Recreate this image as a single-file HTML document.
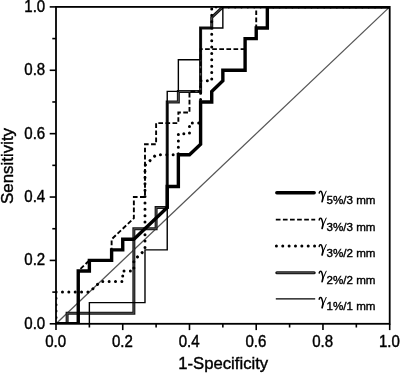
<!DOCTYPE html>
<html><head><meta charset="utf-8"><title>ROC curves</title>
<style>
html,body{margin:0;padding:0;background:#fff;}
body{width:400px;height:373px;overflow:hidden;position:relative;font-family:"Liberation Sans",sans-serif;}
</style></head><body>
<svg width="400" height="373" viewBox="0 0 400 373" style="position:absolute;left:0;top:0;will-change:transform;opacity:0.999">
<rect x="0" y="0" width="400" height="373" fill="#fff"/>
<line x1="56.0" y1="323.8" x2="389.7" y2="6.900000000000034" stroke="#555" stroke-width="1.3"/>
<defs><clipPath id="pc"><rect x="56.0" y="6.900000000000034" width="333.7" height="316.9"/></clipPath></defs>
<g clip-path="url(#pc)">
<path d="M56.00,323.80 L67.12,323.80 L67.12,313.24 L133.86,313.24 L133.86,228.73 L156.11,228.73 L156.11,207.60 L167.23,207.60 L167.23,101.97 L178.36,101.97 L178.36,91.41 L200.60,91.41 L200.60,28.03 L211.73,28.03 L211.73,17.46 L222.85,6.90 L389.70,6.90" fill="none" stroke="#141414" stroke-width="3.0" stroke-linejoin="miter"/>
<path d="M56.00,323.80 L67.12,323.80 L67.12,313.24 L133.86,313.24 L133.86,228.73 L156.11,228.73 L156.11,207.60 L167.23,207.60 L167.23,101.97 L178.36,101.97 L178.36,91.41 L200.60,91.41 L200.60,28.03 L211.73,28.03 L211.73,17.46 L222.85,6.90 L389.70,6.90" fill="none" stroke="#5a5a5a" stroke-width="0.9" stroke-linejoin="miter"/>
<path d="M56.00,323.80 L89.37,323.80 L89.37,302.67 L144.99,302.67 L144.99,249.86 L167.23,249.86 L167.23,91.41 L178.36,91.41 L178.36,59.72 L200.60,59.72 L200.60,28.03 L222.85,28.03 L222.85,6.90 L389.70,6.90" fill="none" stroke="#000" stroke-width="1.4" stroke-linejoin="miter"/>
<path d="M56.00,323.80 L78.25,323.80 L78.25,270.98 L89.37,270.98 L89.37,260.42 L111.62,260.42 L111.62,249.86 L122.74,249.86 L122.74,239.29 L133.86,239.29 L167.23,207.60 L167.23,186.48 L178.36,186.48 L178.36,154.79 L189.48,154.79 L200.60,144.22 L200.60,101.97 L211.73,101.97 L211.73,91.41 L222.85,80.84 L222.85,70.28 L245.10,70.28 L245.10,38.59 L256.22,38.59 L256.22,28.03 L267.34,28.03 L267.34,6.90 L389.70,6.90" fill="none" stroke="#000" stroke-width="3.4" stroke-linejoin="miter"/>
<path d="M56.00,323.80 L78.25,323.80 L78.25,270.98 L89.37,260.42 L111.62,260.42 L111.62,239.29 L133.86,218.17 L133.86,197.04 L144.99,197.04 L144.99,144.22 L156.11,144.22 L156.11,123.10 L178.36,123.10 L178.36,112.53 L189.48,112.53 L189.48,91.41 L200.60,91.41 L200.60,49.15 L245.10,49.15 L245.10,38.59 L256.22,38.59 L256.22,6.90 L389.70,6.90" fill="none" stroke="#000" stroke-width="1.9" stroke-dasharray="4.7 2.4"/>
<path d="M56.00,323.80 L56.00,292.11 L89.37,292.11 L100.49,281.55 L122.74,281.55 L122.74,270.98 L133.86,270.98 L133.86,260.42 L144.99,249.86 L144.99,165.35 L156.11,154.79 L178.36,154.79 L178.36,133.66 L189.48,133.66 L189.48,123.10 L200.60,123.10 L200.60,80.84 L211.73,80.84 L211.73,6.90 L389.70,6.90" fill="none" stroke="#000" stroke-width="3" stroke-dasharray="0.01 6.35" stroke-linecap="round"/>
</g>
<rect x="56.0" y="6.900000000000034" width="333.7" height="316.9" fill="none" stroke="#000" stroke-width="1.8"/>
<line x1="49.70" y1="323.80" x2="56.00" y2="323.80" stroke="#000" stroke-width="1.6"/>
<line x1="56.00" y1="323.80" x2="56.00" y2="330.10" stroke="#000" stroke-width="1.6"/>
<line x1="52.30" y1="292.11" x2="56.00" y2="292.11" stroke="#000" stroke-width="1.6"/>
<line x1="89.37" y1="323.80" x2="89.37" y2="327.50" stroke="#000" stroke-width="1.6"/>
<line x1="49.70" y1="260.42" x2="56.00" y2="260.42" stroke="#000" stroke-width="1.6"/>
<line x1="122.74" y1="323.80" x2="122.74" y2="330.10" stroke="#000" stroke-width="1.6"/>
<line x1="52.30" y1="228.73" x2="56.00" y2="228.73" stroke="#000" stroke-width="1.6"/>
<line x1="156.11" y1="323.80" x2="156.11" y2="327.50" stroke="#000" stroke-width="1.6"/>
<line x1="49.70" y1="197.04" x2="56.00" y2="197.04" stroke="#000" stroke-width="1.6"/>
<line x1="189.48" y1="323.80" x2="189.48" y2="330.10" stroke="#000" stroke-width="1.6"/>
<line x1="52.30" y1="165.35" x2="56.00" y2="165.35" stroke="#000" stroke-width="1.6"/>
<line x1="222.85" y1="323.80" x2="222.85" y2="327.50" stroke="#000" stroke-width="1.6"/>
<line x1="49.70" y1="133.66" x2="56.00" y2="133.66" stroke="#000" stroke-width="1.6"/>
<line x1="256.22" y1="323.80" x2="256.22" y2="330.10" stroke="#000" stroke-width="1.6"/>
<line x1="52.30" y1="101.97" x2="56.00" y2="101.97" stroke="#000" stroke-width="1.6"/>
<line x1="289.59" y1="323.80" x2="289.59" y2="327.50" stroke="#000" stroke-width="1.6"/>
<line x1="49.70" y1="70.28" x2="56.00" y2="70.28" stroke="#000" stroke-width="1.6"/>
<line x1="322.96" y1="323.80" x2="322.96" y2="330.10" stroke="#000" stroke-width="1.6"/>
<line x1="52.30" y1="38.59" x2="56.00" y2="38.59" stroke="#000" stroke-width="1.6"/>
<line x1="356.33" y1="323.80" x2="356.33" y2="327.50" stroke="#000" stroke-width="1.6"/>
<line x1="49.70" y1="6.90" x2="56.00" y2="6.90" stroke="#000" stroke-width="1.6"/>
<line x1="389.70" y1="323.80" x2="389.70" y2="330.10" stroke="#000" stroke-width="1.6"/>
<text transform="translate(45.2,328.80) scale(0.94,1)" font-family="Liberation Sans, sans-serif" font-size="16" text-anchor="end" fill="#000" stroke="#000" stroke-width="0.42">0.0</text>
<text transform="translate(55.70,346.9) scale(0.94,1)" font-family="Liberation Sans, sans-serif" font-size="16" text-anchor="middle" fill="#000" stroke="#000" stroke-width="0.42">0.0</text>
<text transform="translate(45.2,265.42) scale(0.94,1)" font-family="Liberation Sans, sans-serif" font-size="16" text-anchor="end" fill="#000" stroke="#000" stroke-width="0.42">0.2</text>
<text transform="translate(122.44,346.9) scale(0.94,1)" font-family="Liberation Sans, sans-serif" font-size="16" text-anchor="middle" fill="#000" stroke="#000" stroke-width="0.42">0.2</text>
<text transform="translate(45.2,202.04) scale(0.94,1)" font-family="Liberation Sans, sans-serif" font-size="16" text-anchor="end" fill="#000" stroke="#000" stroke-width="0.42">0.4</text>
<text transform="translate(189.18,346.9) scale(0.94,1)" font-family="Liberation Sans, sans-serif" font-size="16" text-anchor="middle" fill="#000" stroke="#000" stroke-width="0.42">0.4</text>
<text transform="translate(45.2,138.66) scale(0.94,1)" font-family="Liberation Sans, sans-serif" font-size="16" text-anchor="end" fill="#000" stroke="#000" stroke-width="0.42">0.6</text>
<text transform="translate(255.92,346.9) scale(0.94,1)" font-family="Liberation Sans, sans-serif" font-size="16" text-anchor="middle" fill="#000" stroke="#000" stroke-width="0.42">0.6</text>
<text transform="translate(45.2,75.28) scale(0.94,1)" font-family="Liberation Sans, sans-serif" font-size="16" text-anchor="end" fill="#000" stroke="#000" stroke-width="0.42">0.8</text>
<text transform="translate(322.66,346.9) scale(0.94,1)" font-family="Liberation Sans, sans-serif" font-size="16" text-anchor="middle" fill="#000" stroke="#000" stroke-width="0.42">0.8</text>
<text transform="translate(45.2,11.90) scale(0.94,1)" font-family="Liberation Sans, sans-serif" font-size="16" text-anchor="end" fill="#000" stroke="#000" stroke-width="0.42">1.0</text>
<text transform="translate(389.40,346.9) scale(0.94,1)" font-family="Liberation Sans, sans-serif" font-size="16" text-anchor="middle" fill="#000" stroke="#000" stroke-width="0.42">1.0</text>
<text transform="translate(223.2,368.7) scale(0.965,1)" font-family="Liberation Sans, sans-serif" font-size="17.3" text-anchor="middle" fill="#000" stroke="#000" stroke-width="0.4">1-Specificity</text>
<text transform="translate(12.8,166.0) rotate(-90)" font-family="Liberation Sans, sans-serif" font-size="16.9" text-anchor="middle" fill="#000" stroke="#000" stroke-width="0.4">Sensitivity</text>
<line x1="276.8" y1="192.7" x2="314.2" y2="192.7" stroke="#000" stroke-width="3.4" stroke-linecap="round"/>
<line x1="275.8" y1="219.6" x2="315.2" y2="219.6" stroke="#000" stroke-width="1.9" stroke-dasharray="4.7 2.4"/>
<line x1="276.4" y1="246.1" x2="314.7" y2="246.1" stroke="#000" stroke-width="3" stroke-dasharray="0.01 6.35" stroke-linecap="round"/>
<line x1="276.8" y1="272.7" x2="314.2" y2="272.7" stroke="#141414" stroke-width="3.0" stroke-linecap="round"/>
<line x1="276.8" y1="272.7" x2="314.2" y2="272.7" stroke="#5a5a5a" stroke-width="0.9"/>
<line x1="275.8" y1="298.9" x2="315.2" y2="298.9" stroke="#000" stroke-width="1.4"/>
<g transform="translate(0,0.00)" fill="none" stroke="#000" stroke-linecap="round" stroke-linejoin="round"><path d="M319.2,193.1 C319.3,191.5 320.3,190.9 321.1,191.4 C322.0,192.0 322.4,194.6 323.1,197.6" stroke-width="1.45"/><path d="M326.2,191.2 L323.3,197.8" stroke-width="1.0"/><path d="M323.1,197.6 L322.1,201.6" stroke-width="1.7"/></g>
<text x="326.5" y="203.60" font-family="Liberation Sans, sans-serif" font-size="11.6" fill="#000" stroke="#000" stroke-width="0.38">5%/3 mm</text>
<g transform="translate(0,26.90)" fill="none" stroke="#000" stroke-linecap="round" stroke-linejoin="round"><path d="M319.2,193.1 C319.3,191.5 320.3,190.9 321.1,191.4 C322.0,192.0 322.4,194.6 323.1,197.6" stroke-width="1.45"/><path d="M326.2,191.2 L323.3,197.8" stroke-width="1.0"/><path d="M323.1,197.6 L322.1,201.6" stroke-width="1.7"/></g>
<text x="326.5" y="230.50" font-family="Liberation Sans, sans-serif" font-size="11.6" fill="#000" stroke="#000" stroke-width="0.38">3%/3 mm</text>
<g transform="translate(0,53.40)" fill="none" stroke="#000" stroke-linecap="round" stroke-linejoin="round"><path d="M319.2,193.1 C319.3,191.5 320.3,190.9 321.1,191.4 C322.0,192.0 322.4,194.6 323.1,197.6" stroke-width="1.45"/><path d="M326.2,191.2 L323.3,197.8" stroke-width="1.0"/><path d="M323.1,197.6 L322.1,201.6" stroke-width="1.7"/></g>
<text x="326.5" y="257.00" font-family="Liberation Sans, sans-serif" font-size="11.6" fill="#000" stroke="#000" stroke-width="0.38">3%/2 mm</text>
<g transform="translate(0,80.00)" fill="none" stroke="#000" stroke-linecap="round" stroke-linejoin="round"><path d="M319.2,193.1 C319.3,191.5 320.3,190.9 321.1,191.4 C322.0,192.0 322.4,194.6 323.1,197.6" stroke-width="1.45"/><path d="M326.2,191.2 L323.3,197.8" stroke-width="1.0"/><path d="M323.1,197.6 L322.1,201.6" stroke-width="1.7"/></g>
<text x="326.5" y="283.60" font-family="Liberation Sans, sans-serif" font-size="11.6" fill="#000" stroke="#000" stroke-width="0.38">2%/2 mm</text>
<g transform="translate(0,106.20)" fill="none" stroke="#000" stroke-linecap="round" stroke-linejoin="round"><path d="M319.2,193.1 C319.3,191.5 320.3,190.9 321.1,191.4 C322.0,192.0 322.4,194.6 323.1,197.6" stroke-width="1.45"/><path d="M326.2,191.2 L323.3,197.8" stroke-width="1.0"/><path d="M323.1,197.6 L322.1,201.6" stroke-width="1.7"/></g>
<text x="326.5" y="309.80" font-family="Liberation Sans, sans-serif" font-size="11.6" fill="#000" stroke="#000" stroke-width="0.38">1%/1 mm</text>
</svg>
</body></html>
